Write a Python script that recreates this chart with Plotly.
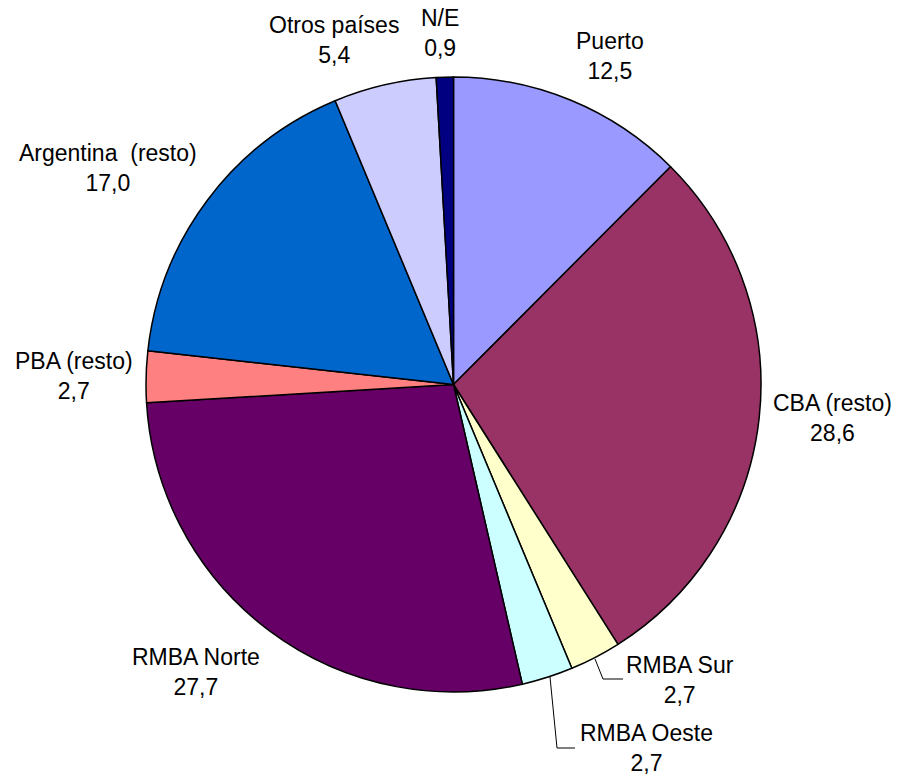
import plotly.graph_objects as go

# Data
labels = ["Puerto", "CBA (resto)", "RMBA Sur", "RMBA Oeste", "RMBA Norte",
          "PBA (resto)", "Argentina \u00a0(resto)", "Otros países", "N/E"]
values = [12.5, 28.6, 2.7, 2.7, 27.7, 2.7, 17.0, 5.4, 0.9]
colors = ["#9999FF", "#993366", "#FFFFCC", "#CCFFFF", "#660066",
          "#FF8080", "#0066CC", "#CCCCFF", "#000080"]

W, H = 898, 778

def px(x):
    return x / W

def py(y):
    return 1 - y / H

# label anchor positions (pixels), layout only
label_pos = [(610, 56), (832, 418), (680, 680), (646, 748), (196, 672),
             (74, 376), (108, 168), (334, 40), (440, 33)]

fig = go.Figure(go.Pie(
    labels=labels,
    values=values,
    marker=dict(colors=colors, line=dict(color="black", width=1.5)),
    sort=False,
    direction="clockwise",
    rotation=0,
    textinfo="none",
    hoverinfo="label+value",
    domain=dict(x=[px(146), px(761)], y=[py(692), py(77)]),
    showlegend=False,
))

annotations = []
for lab, val, (x, y) in zip(labels, values, label_pos):
    annotations.append(dict(
        text=f"{lab}<br>{val:.1f}".replace(".", ","),
        x=px(x), y=py(y), xref="paper", yref="paper",
        xanchor="center", yanchor="middle", showarrow=False,
        font=dict(family="Liberation Sans, Arial, sans-serif", size=23, color="black"),
        align="center",
    ))

leaders = [
    [(595, 659), (603, 679), (623, 679)],
    [(550, 677), (557, 748), (575, 748)],
]
shapes = []
for pts in leaders:
    for (x0, y0), (x1, y1) in zip(pts[:-1], pts[1:]):
        shapes.append(dict(type="line", xref="paper", yref="paper",
                           x0=px(x0), y0=py(y0), x1=px(x1), y1=py(y1),
                           line=dict(color="black", width=1)))

fig.update_layout(
    width=W, height=H,
    margin=dict(l=0, r=0, t=0, b=0),
    paper_bgcolor="white",
    plot_bgcolor="white",
    annotations=annotations,
    shapes=shapes,
)

fig.write_html("out.html", config={"displayModeBar": False},
               post_script="document.body.style.margin='0px';")
